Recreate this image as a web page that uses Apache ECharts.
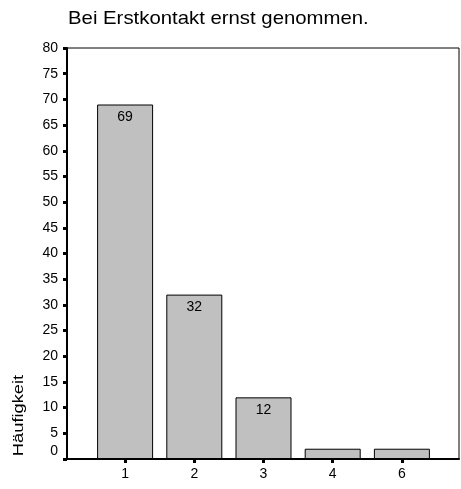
<!DOCTYPE html>
<html>
<head>
<meta charset="utf-8">
<script src="https://cdn.jsdelivr.net/npm/echarts@6/dist/echarts.min.js"></script>
<style>
html,body{margin:0;padding:0;background:#fff;}
#chart{width:461px;height:489px;}
</style>
</head>
<body>
<div id="chart"></div>
<script>
const titleText = 'Bei Erstkontakt ernst genommen.';
const yAxisTitle = 'Häufigkeit';
const categories = ['1', '2', '3', '4', '6'];
const counts = [69, 32, 12, 2, 2];
const yMin = 0, yMax = 80, yStep = 5;

const font = '"Liberation Sans", Arial, sans-serif';
const chart = echarts.init(document.getElementById('chart'), null, {renderer: 'canvas'});
chart.setOption({
  backgroundColor: '#fff',
  animation: false,
  graphic: [
    {
      type: 'text',
      x: 68, y: 19,
      scaleX: 1.15,
      style: {text: titleText, font: '17.7px ' + font, fill: '#000',
               textAlign: 'left', textVerticalAlign: 'middle'}
    },
    {
      type: 'text',
      x: 19, y: 415.5,
      rotation: Math.PI / 2,
      scaleX: 1.22,
      style: {text: yAxisTitle, font: '15px ' + font, fill: '#000',
              textAlign: 'center', textVerticalAlign: 'middle'}
    }
  ],
  grid: [
    {left: 67, top: 48, right: 2, bottom: 30, show: true, borderColor: '#000', borderWidth: 1, containLabel: false},
    {left: 90.5, top: 48, right: 24.5, bottom: 30, containLabel: false}
  ],
  xAxis: [
    {gridIndex: 0, type: 'value', min: 0, max: 1,
     axisLine: {show: true, onZero: false, lineStyle: {color: '#000', width: 2}},
     axisTick: {show: false}, axisLabel: {show: false}, splitLine: {show: false}},
    {gridIndex: 1, type: 'category', data: categories,
     axisLine: {show: false},
     axisTick: {show: true, alignWithLabel: true, length: 4, lineStyle: {color: '#000', width: 3}},
     axisLabel: {margin: 8, fontFamily: font, fontSize: 14, color: '#000'},
     splitLine: {show: false}}
  ],
  yAxis: [
    {gridIndex: 0, type: 'value', min: yMin, max: yMax, interval: yStep,
     axisLine: {show: true, lineStyle: {color: '#000', width: 2}},
     axisTick: {show: true, length: 4, lineStyle: {color: '#000', width: 3}},
     axisLabel: {margin: 9, fontFamily: font, fontSize: 14, color: '#000',
                 formatter: v => v === 0 ? '{z|0}' : String(v),
                 rich: {z: {fontFamily: font, fontSize: 14, color: '#000', padding: [0, 0, 16, 0]}}},
     splitLine: {show: false}},
    {gridIndex: 1, type: 'value', min: yMin, max: yMax, show: false, splitLine: {show: false}}
  ],
  series: [{
    type: 'bar',
    xAxisIndex: 1, yAxisIndex: 1,
    data: counts,
    barWidth: 56,
    itemStyle: {color: '#c0c0c0', borderColor: '#000', borderWidth: 1},
    label: {
      show: true, position: 'insideTop', distance: 6,
      fontFamily: font, fontSize: 14, color: '#000',
      formatter: p => p.value >= 5 ? String(p.value) : ''
    }
  }]
});
</script>
</body>
</html>
